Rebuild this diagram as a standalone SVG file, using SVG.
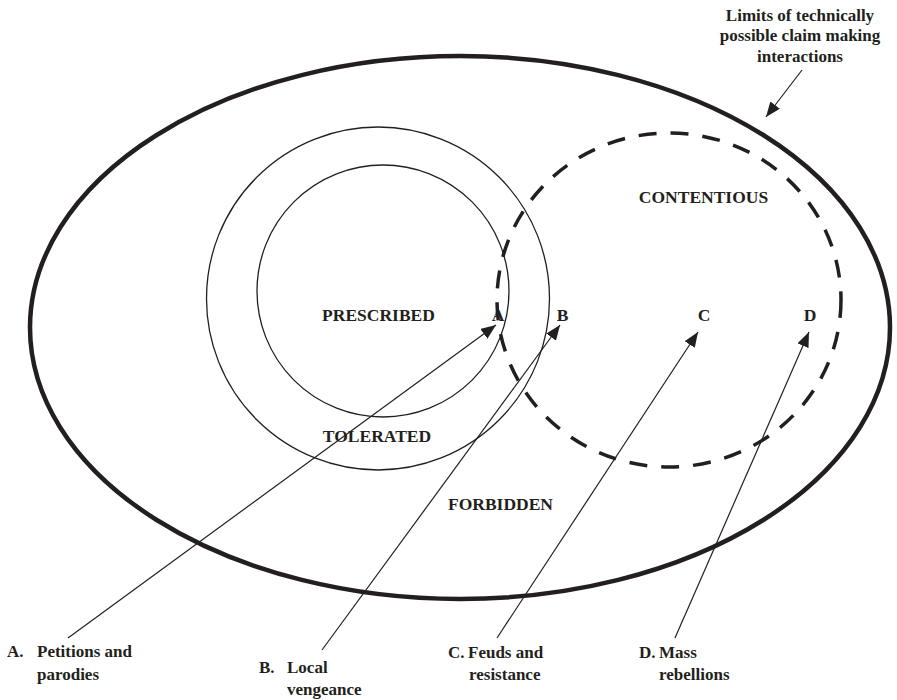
<svg xmlns="http://www.w3.org/2000/svg" width="897" height="700" viewBox="0 0 897 700">
  <style>
    .lbl { font-family: "Liberation Serif", "Times New Roman", serif; font-weight: bold; font-size: 17px; fill: #231f20; }
    .big { font-size: 17.5px; }
    .mid { text-anchor: middle; }
    .ring { fill: none; stroke: #231f20; stroke-width: 1.3; }
    .lead { fill: none; stroke: #231f20; stroke-width: 1.2; marker-end: url(#tip); }
  </style>
  <defs>
    <marker id="tip" markerUnits="userSpaceOnUse" markerWidth="16" markerHeight="12" refX="15" refY="6" orient="auto">
      <path d="M0,0 L15,6 L0,12 Z" fill="#231f20"/>
    </marker>
  </defs>
  <rect width="897" height="700" fill="#ffffff"/>

  <!-- outer limit of possible interactions -->
  <g id="limits">
    <ellipse cx="460" cy="327.5" rx="430" ry="271.5" fill="none" stroke="#231f20" stroke-width="4.5"/>
    <text class="lbl mid" x="800" y="21">Limits of technically</text>
    <text class="lbl mid" x="800" y="41">possible claim making</text>
    <text class="lbl mid" x="800" y="62">interactions</text>
  </g>

  <g id="tolerated">
    <circle class="ring" cx="378" cy="298.5" r="171.5"/>
    <text class="lbl big mid" x="377" y="442">TOLERATED</text>
  </g>

  <g id="prescribed">
    <circle class="ring" cx="383" cy="291" r="126"/>
    <text class="lbl big mid" x="378.5" y="321">PRESCRIBED</text>
  </g>

  <g id="contentious">
    <ellipse cx="669" cy="300" rx="172" ry="167" fill="none" stroke="#231f20" stroke-width="3.5" stroke-dasharray="18 14"/>
    <text class="lbl big mid" x="703.5" y="203">CONTENTIOUS</text>
  </g>

  <g id="forbidden">
    <text class="lbl big mid" x="500.5" y="510">FORBIDDEN</text>
  </g>

  <!-- point markers -->
  <g id="point-a"><text class="lbl big mid" x="498" y="321">A</text></g>
  <g id="point-b"><text class="lbl big mid" x="562.5" y="321">B</text></g>
  <g id="point-c"><text class="lbl big mid" x="704" y="321">C</text></g>
  <g id="point-d"><text class="lbl big mid" x="810" y="321">D</text></g>

  <!-- example labels -->
  <g id="label-a">
    <text class="lbl" x="7" y="657">A.</text>
    <text class="lbl" x="37" y="657">Petitions and</text>
    <text class="lbl" x="37" y="680">parodies</text>
  </g>
  <g id="label-b">
    <text class="lbl" x="259" y="673">B.</text>
    <text class="lbl" x="287" y="673">Local</text>
    <text class="lbl" x="287" y="695">vengeance</text>
  </g>
  <g id="label-c">
    <text class="lbl" x="448" y="658">C.</text>
    <text class="lbl" x="468" y="658">Feuds and</text>
    <text class="lbl" x="469" y="680">resistance</text>
  </g>
  <g id="label-d">
    <text class="lbl" x="639" y="658">D.</text>
    <text class="lbl" x="659" y="658">Mass</text>
    <text class="lbl" x="659" y="680">rebellions</text>
  </g>

  <!-- connectors -->
  <g id="connectors">
    <line class="lead" x1="68" y1="638" x2="496" y2="325"/>
    <line class="lead" x1="322" y1="650" x2="560" y2="325"/>
    <line class="lead" x1="497" y1="638" x2="698" y2="332"/>
    <line class="lead" x1="675" y1="638" x2="809" y2="332"/>
    <line class="lead" x1="802" y1="70" x2="766" y2="117"/>
  </g>
</svg>
